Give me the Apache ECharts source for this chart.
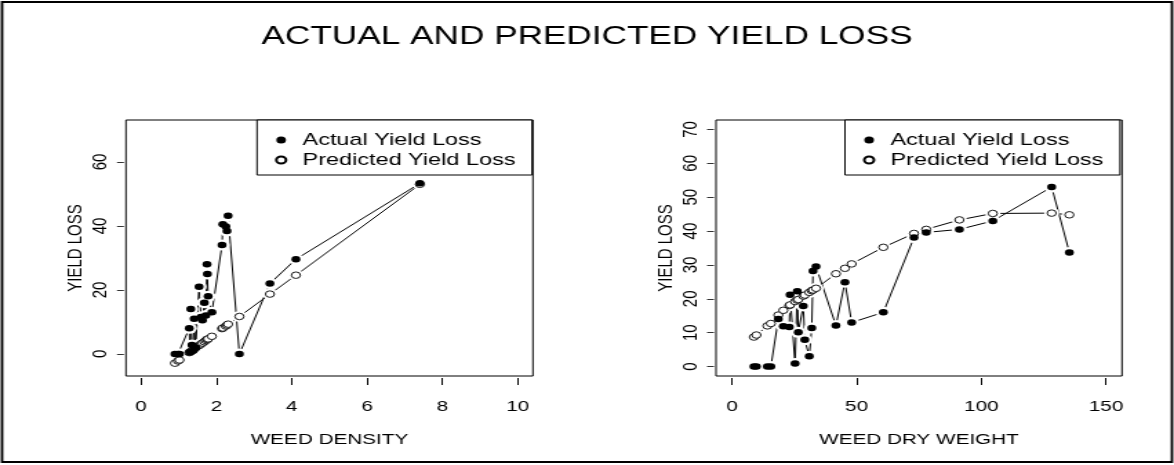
<!DOCTYPE html>
<html>
<head>
<meta charset="utf-8">
<script src="https://cdn.jsdelivr.net/npm/echarts@6/dist/echarts.min.js"></script>
<style>
html,body{margin:0;padding:0;background:#fff;overflow:hidden;}
#wrap{width:1174px;height:465px;overflow:hidden;position:relative;}
#chart{width:851px;height:465px;transform:scaleX(1.37955);transform-origin:0 0;position:absolute;left:0;top:0;}
</style>
</head>
<body>
<div id="wrap"><div id="chart"></div></div>
<script>
// ---- Panel 1: weed density ----
var densityX = [0.90, 0.98, 1.02, 1.28, 1.30, 1.32, 1.35, 1.38, 1.41, 1.45, 1.54, 1.59, 1.63, 1.68, 1.72, 1.75, 1.76, 1.78, 1.88, 2.15, 2.17, 2.25, 2.28, 2.31, 2.61, 3.42, 4.11, 7.40];
var densityActual = [0, 0, 0, 8, 0.5, 14, 2.8, 1.0, 11, 2, 21, 11.5, 10.5, 16, 12, 28, 25, 18, 13, 34, 40.5, 39.8, 38.4, 43.2, 0, 22, 29.6, 53.3];
var densityPred = [-2.9, -2.2, -1.9, 0.4, 0.6, 0.8, 1.0, 1.3, 1.5, 1.9, 2.6, 3.1, 3.4, 3.8, 4.2, 4.5, 4.6, 4.7, 5.5, 7.9, 8.1, 8.7, 9.0, 9.3, 11.7, 18.7, 24.6, 53.0];

// ---- Panel 2: weed dry weight ----
var weightX = [8.8, 9.8, 14.2, 15.6, 18.6, 20.6, 23.0, 23.3, 25.3, 26.2, 26.6, 28.6, 29.2, 31.0, 32.0, 32.5, 33.7, 41.7, 45.3, 48.0, 60.7, 73.0, 77.9, 91.2, 104.6, 128.2, 135.3];
var weightActual = [0, 0, 0, 0, 14.0, 11.9, 11.7, 21.2, 0.9, 22.2, 10.1, 17.9, 7.9, 3.0, 11.4, 28.2, 29.5, 12.1, 24.9, 13.0, 16.0, 38.1, 39.6, 40.5, 43.0, 53.0, 33.7];
var weightPred = [8.7, 9.3, 12.0, 12.7, 15.2, 16.6, 18.0, 18.2, 19.2, 19.6, 19.8, 20.8, 21.1, 21.9, 22.4, 22.6, 23.1, 27.4, 29.0, 30.3, 35.2, 39.3, 40.5, 43.3, 45.2, 45.3, 44.8];

// ---- ticks / labels ----
var densityTicks = [0, 2, 4, 6, 8, 10];
var lossTicksLeft = [0, 20, 40, 60];
var weightTicks = [0, 50, 100, 150];
var lossTicksRight = [0, 10, 20, 30, 40, 50, 60, 70];

var titleText = 'ACTUAL AND PREDICTED YIELD LOSS';
var xNameLeft = 'WEED DENSITY';
var xNameRight = 'WEED DRY WEIGHT';
var yName = 'YIELD LOSS';
var nameActual = 'Actual Yield Loss';
var namePred = 'Predicted Yield Loss';

function pairs(xs, ys) {
  var out = [];
  for (var i = 0; i < xs.length; i++) out.push([xs[i], ys[i]]);
  return out;
}

var FONT = "'Liberation Sans', Arial, Helvetica, sans-serif";

function xAxisCfg(idx, min, max, ticks, name) {
  return {
    type: 'value', gridIndex: idx, min: min, max: max, offset: 2,
    name: name, nameLocation: 'middle', nameGap: 54,
    nameTextStyle: {fontFamily: FONT, fontSize: 15, color: '#000'},
    axisLine: {show: false, onZero: false},
    axisTick: {show: true, inside: false, length: 7, customValues: ticks, lineStyle: {color: '#000', width: 1}},
    axisLabel: {customValues: ticks, margin: 21, fontFamily: FONT, fontSize: 15, color: '#000'},
    splitLine: {show: false}
  };
}
function yAxisCfg(idx, min, max, ticks, name) {
  return {
    type: 'value', gridIndex: idx, min: min, max: max, offset: 1.5,
    name: name, nameLocation: 'middle', nameGap: 27,
    nameTextStyle: {fontFamily: FONT, fontSize: 15, color: '#000'},
    axisLine: {show: false, onZero: false},
    axisTick: {show: true, inside: false, length: 5, customValues: ticks, lineStyle: {color: '#000', width: 0.8}},
    axisLabel: {customValues: ticks, rotate: 90, margin: 9, fontFamily: FONT, fontSize: 15, color: '#000'},
    splitLine: {show: false}
  };
}

function panelSeries(idx, xs, act, pred) {
  var a = pairs(xs, act), p = pairs(xs, pred);
  return [
    {type: 'line', name: 'lineA' + idx, xAxisIndex: idx, yAxisIndex: idx, data: a, showSymbol: false, symbol: 'none',
     lineStyle: {color: '#000', width: 1}, z: 1, silent: true},
    {type: 'line', name: 'lineP' + idx, xAxisIndex: idx, yAxisIndex: idx, data: p, showSymbol: false, symbol: 'none',
     lineStyle: {color: '#000', width: 1}, z: 1, silent: true},
    {type: 'scatter', name: 'padA' + idx, xAxisIndex: idx, yAxisIndex: idx, data: a, symbol: 'circle', symbolSize: 11,
     itemStyle: {color: '#fff', opacity: 1}, z: 2, silent: true},
    {type: 'scatter', name: 'padP' + idx, xAxisIndex: idx, yAxisIndex: idx, data: p, symbol: 'circle', symbolSize: 11,
     itemStyle: {color: '#fff', opacity: 1}, z: 2, silent: true},
    {type: 'scatter', name: namePred, xAxisIndex: idx, yAxisIndex: idx, data: p, symbol: 'circle', symbolSize: 6.5,
     itemStyle: {color: '#fff', borderColor: '#000', borderWidth: 0.9, opacity: 1}, z: 3},
    {type: 'scatter', name: nameActual, xAxisIndex: idx, yAxisIndex: idx, data: a, symbol: 'circle', symbolSize: 6.5,
     itemStyle: {color: '#000', opacity: 1}, z: 4}
  ];
}

function legendCfg(left) {
  return {
    left: left, top: 120, orient: 'vertical',
    data: [nameActual, namePred],
    backgroundColor: '#fff',
    borderColor: '#000', borderWidth: 1, borderRadius: 0,
    padding: [10, 12, 5, 13],
    itemWidth: 7, itemHeight: 7, itemGap: 0,
    selectedMode: false,
    textStyle: {fontFamily: FONT, fontSize: 17, color: '#000', lineHeight: 20, padding: [0, 0, 0, 7]}
  };
}

var chart = echarts.init(document.getElementById('chart'), null, {renderer: 'canvas', width: 851, height: 465});
chart.setOption({
  animation: false,
  backgroundColor: '#fff',
  title: {
    text: titleText, left: 'center', top: 19,
    textStyle: {fontFamily: FONT, fontSize: 25.5, fontWeight: 'normal', color: '#000'}
  },
  graphic: [{
    type: 'rect', silent: true, z: 100,
    shape: {x: 1.5, y: 2, width: 848, height: 460},
    style: {fill: 'none', stroke: '#000', lineWidth: 1.8}
  }],
  grid: [
    {left: 91.3, top: 120, width: 295.0, height: 256, show: true, borderColor: '#000', borderWidth: 1, backgroundColor: 'transparent'},
    {left: 519.0, top: 120, width: 294.3, height: 256, show: true, borderColor: '#000', borderWidth: 1, backgroundColor: 'transparent'}
  ],
  xAxis: [
    xAxisCfg(0, -0.4, 10.4, densityTicks, xNameLeft),
    xAxisCfg(1, -6.4, 156.4, weightTicks, xNameRight)
  ],
  yAxis: [
    yAxisCfg(0, -6.9, 73.1, lossTicksLeft, yName),
    yAxisCfg(1, -2.8, 72.8, lossTicksRight, yName)
  ],
  legend: [legendCfg(186.3), legendCfg(612.5)],
  series: [].concat(
    panelSeries(0, densityX, densityActual, densityPred),
    panelSeries(1, weightX, weightActual, weightPred)
  )
});
</script>
</body>
</html>
